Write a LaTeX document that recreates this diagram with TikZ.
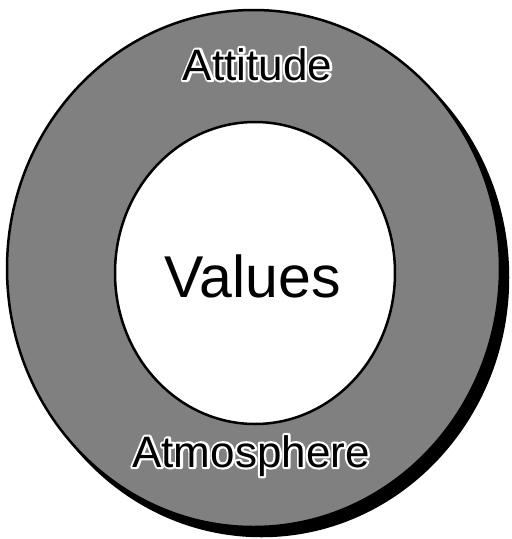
\documentclass[tikz,border=0pt]{standalone}
\usepackage{fontspec}
\setmainfont{Liberation Sans}
\usetikzlibrary{shapes.geometric}
\tikzset{
  ringfill/.style={ellipse, draw=black, line width=2.5pt, fill=black!50, inner sep=0pt},
  holefill/.style={ellipse, draw=black, line width=2.5pt, fill=white, inner sep=0pt},
  shadowfill/.style={ellipse, fill=black, draw=black, line width=2.5pt, inner sep=0pt},
  ringlabel/.style={font=\fontsize{44}{44}\selectfont, inner sep=0pt, anchor=base},
  bigtext/.style={font=\fontsize{59}{59}\selectfont, inner sep=0pt}
}
\newcommand{\strokedtext}[1]{\special{pdf:code 1 Tr 4.4 w 1 1 1 RG 1 j}#1\special{pdf:code 0 Tr}}
\newcommand{\halotext}[3]{% name, position, text
  \node[ringlabel] (#1halo) at (#2) {\strokedtext{#3}};
  \node[ringlabel, text=black] (#1) at (#2) {#3};
}
\begin{document}
\begin{tikzpicture}[x=1pt,y=-1pt]
\useasboundingbox (0,0) rectangle (512,539);
\node[shadowfill, minimum width=493pt, minimum height=517pt] (shadow) at (261.5,277.5) {};
\node[ringfill, minimum width=493pt, minimum height=517pt] (outer) at (253.5,268.5) {};
\node[holefill, minimum width=280pt, minimum height=302pt] (inner) at (255,273) {};
\node[bigtext] (values) at (253,276) {Values};
\coordinate (pa) at (257.5,80);
\coordinate (pb) at (251,467);
\halotext{attitude}{pa}{Attitude}
\halotext{atmosphere}{pb}{Atmosphere}
\end{tikzpicture}
\end{document}
